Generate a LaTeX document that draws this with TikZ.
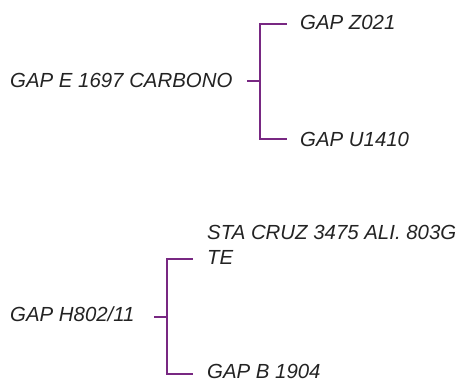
\documentclass[tikz,border=0pt]{standalone}
\usepackage{fontspec}
\setmainfont{Liberation Sans}
\definecolor{bracketpurple}{RGB}{120,40,130}
\definecolor{labelgray}{RGB}{35,35,35}
\usetikzlibrary{positioning}

\begin{document}
\begin{tikzpicture}[x=1pt, y=-1pt,
  every node/.style={font=\fontsize{20.4}{25}\selectfont\itshape, text=labelgray,
                     inner sep=0pt, anchor=base west, align=left},
  bracket/.style={draw=bracketpurple, line width=2pt}]
\useasboundingbox (0,0) rectangle (461,383);
% first family
\node (e1697) at (10,87.2) {GAP E 1697 CARBONO};
\node (z021) at (300,29) {GAP Z021};
\node (u1410) at (300,146) {GAP U1410};
\coordinate (j1) at (259.7,81.3);
\coordinate (s1) at (247,81.3);
\coordinate (t1a) at (286.7,24);
\coordinate (t1b) at (286.7,139.3);
\draw[bracket] (t1a) -| (j1) |- (t1b);
\draw[bracket] (s1) -- (j1);
% second family
\node (h802) at (10,321.7) {GAP H802/11};
\node (stacruz) at (207,264.3) {STA CRUZ 3475 ALI. 803G\\TE};
\node (b1904) at (207,378.5) {GAP B 1904};
\coordinate (j2) at (166.7,317);
\coordinate (s2) at (154,317);
\coordinate (t2a) at (192.7,258.7);
\coordinate (t2b) at (192.7,373.5);
\draw[bracket] (t2a) -| (j2) |- (t2b);
\draw[bracket] (s2) -- (j2);
\end{tikzpicture}
\end{document}
